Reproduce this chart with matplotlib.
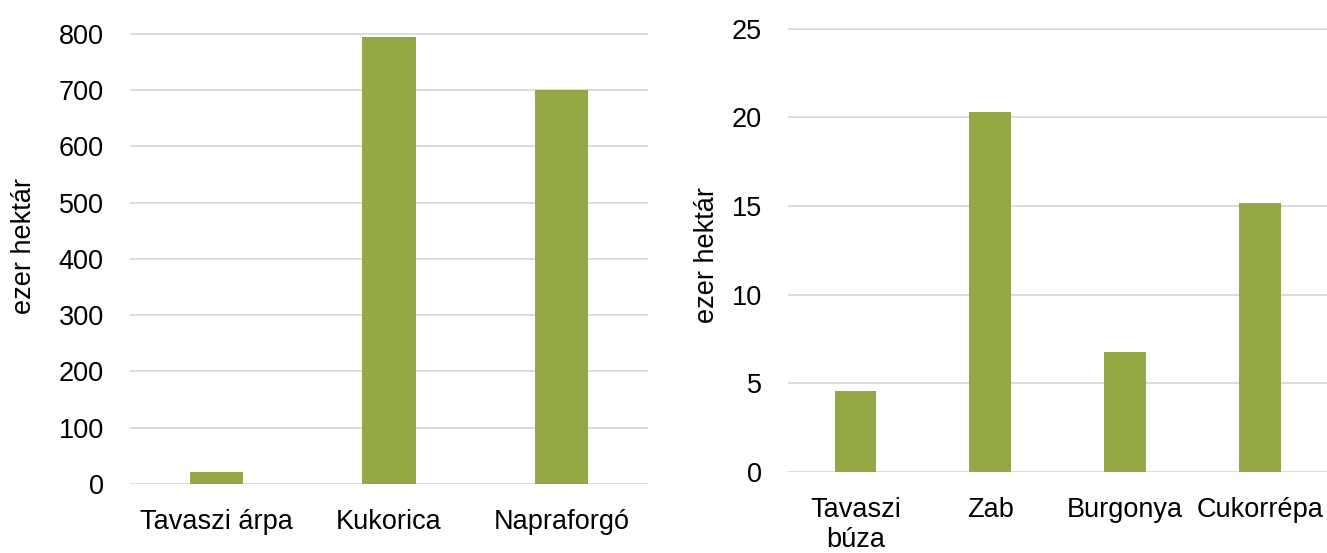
import matplotlib.pyplot as plt

plt.rcParams['font.family'] = ['Liberation Sans', 'DejaVu Sans']

left_cats = ['Tavaszi árpa', 'Kukorica', 'Napraforgó']
left_vals = [22, 795, 700]

right_cats = ['Tavaszi\nbúza', 'Zab', 'Burgonya', 'Cukorrépa']
right_vals = [4.56, 20.32, 6.74, 15.17]

bar_color = '#94A944'
grid_color = '#D9D9D9'
fs = 19.5

fig = plt.figure(figsize=(13.27, 5.53), dpi=100)
ax1 = fig.add_axes([0.098, 0.1248, 0.390, 0.817])
ax2 = fig.add_axes([0.594, 0.1465, 0.406, 0.805])


def style(ax, cats, vals, ymax, step, label_xy):
    x = range(len(cats))
    ax.bar(x, vals, width=0.31, color=bar_color, zorder=3)
    ax.set_xlim(-0.5, len(cats) - 0.5)
    ax.set_ylim(0, ymax * 1.004)
    ax.set_yticks([i * step for i in range(int(ymax / step) + 1)])
    ax.set_xticks(list(x))
    ax.set_xticklabels(cats, fontsize=fs, linespacing=1.2)
    ax.tick_params(axis='y', labelsize=fs, length=0, pad=19)
    ax.tick_params(axis='x', length=0, pad=18)
    ax.grid(axis='y', color=grid_color, lw=1.3, zorder=0)
    for s in ax.spines.values():
        s.set_visible(False)
    ax.set_ylabel('ezer hektár', fontsize=fs, va='center')
    ax.yaxis.set_label_coords(*label_xy)


style(ax1, left_cats, left_vals, 800, 100, (-0.205, 0.527))
style(ax2, right_cats, right_vals, 25, 5, (-0.150, 0.488))

fig.savefig('out.png', dpi=100)
